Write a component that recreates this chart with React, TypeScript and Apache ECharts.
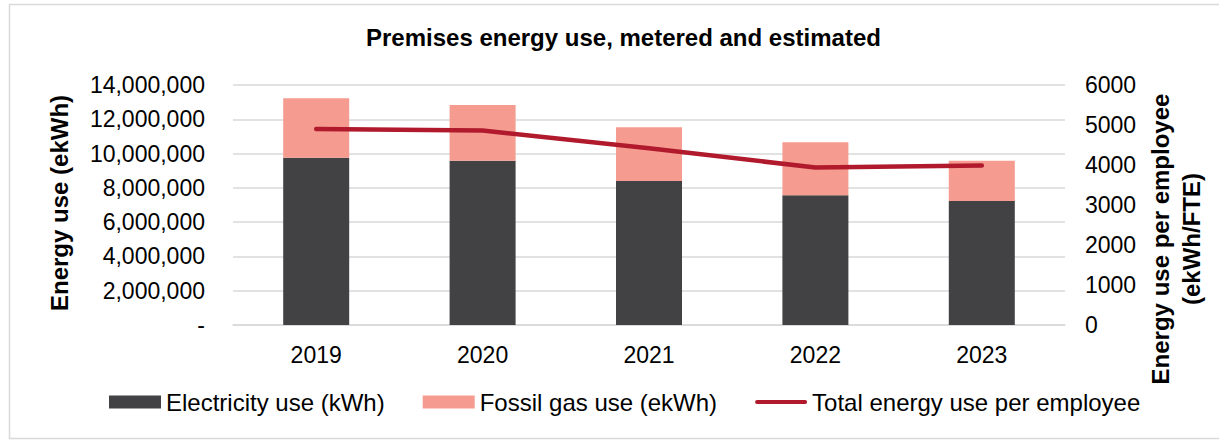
import React, { useEffect, useRef } from "react";
import * as echarts from "echarts";

const categories = ["2019", "2020", "2021", "2022", "2023"];
const electricityUse = [9760000, 9580000, 8400000, 7570000, 7230000];
const fossilGasUse = [3460000, 3250000, 3130000, 3090000, 2350000];
const perEmployee = [4900, 4860, 4420, 3935, 3990];

const titleText = "Premises energy use, metered and estimated";
const leftAxisName = "Energy use (ekWh)";
const rightAxisName = "Energy use per employee\n(ekWh/FTE)";
const seriesNames = ["Electricity use (kWh)", "Fossil gas use (ekWh)", "Total energy use per employee"];

const FONT = '"Liberation Sans", Arial, sans-serif';
const GRID_COLOR = "#d9d9d9";

export default function App() {
  const ref = useRef<HTMLDivElement>(null);
  useEffect(() => {
    if (!ref.current) return;
    const chart = echarts.init(ref.current, undefined, { renderer: "svg" });
    chart.setOption({
      animation: false,
      textStyle: { fontFamily: FONT },
      title: {
        text: titleText,
        left: 366,
        top: 25,
        padding: 0,
        textStyle: { fontFamily: FONT, fontSize: 24, fontWeight: "bold", color: "#000" },
      },
      grid: { left: 233, right: 154, top: 85, bottom: 117, containLabel: false },
      legend: {
        left: 109,
        top: 390,
        padding: 0,
        itemWidth: 52,
        itemHeight: 13,
        itemGap: 38,
        textStyle: { fontFamily: FONT, fontSize: 24, color: "#000" },
        data: [
          { name: seriesNames[0], icon: "rect" },
          { name: seriesNames[1], icon: "rect" },
          {
            name: seriesNames[2],
            icon: "path://M0,0L0,0ZM52,13L52,13ZM1,4.5L51,4.5A2,2,0,0,1,51,8.5L1,8.5A2,2,0,0,1,1,4.5Z",
          },
        ],
      },
      xAxis: {
        type: "category",
        data: categories,
        axisLine: { lineStyle: { color: GRID_COLOR, width: 1.5 } },
        axisTick: { show: false },
        axisLabel: { fontFamily: FONT, fontSize: 23, color: "#000", margin: 18 },
      },
      yAxis: [
        {
          type: "value",
          min: 0,
          max: 14000000,
          interval: 2000000,
          axisLine: { show: false },
          axisTick: { show: false },
          splitLine: { lineStyle: { color: GRID_COLOR, width: 1.5 } },
          axisLabel: {
            fontFamily: FONT,
            fontSize: 23,
            color: "#000",
            margin: 28,
            formatter: (v: number) => (v === 0 ? "-" : v.toLocaleString("en-US")),
          },
        },
        {
          type: "value",
          min: 0,
          max: 6000,
          interval: 1000,
          position: "right",
          axisLine: { show: false },
          axisTick: { show: false },
          splitLine: { show: false },
          axisLabel: {
            fontFamily: FONT,
            fontSize: 23,
            color: "#000",
            margin: 20,
            formatter: (v: number) => String(v),
          },
        },
      ],
      series: [
        {
          name: seriesNames[0],
          type: "bar",
          stack: "energy",
          data: electricityUse,
          barWidth: 66,
          itemStyle: { color: "#424244" },
        },
        {
          name: seriesNames[1],
          type: "bar",
          stack: "energy",
          data: fossilGasUse,
          barWidth: 66,
          itemStyle: { color: "#f59b8f" },
        },
        {
          name: seriesNames[2],
          type: "line",
          yAxisIndex: 1,
          data: perEmployee,
          symbol: "none",
          showSymbol: false,
          lineStyle: { color: "#b01a2c", width: 4.5, cap: "round", join: "round" },
          itemStyle: { color: "#b01a2c" },
        },
      ],
      graphic: [
        {
          type: "rect",
          silent: true,
          shape: { x: 9.5, y: 4.5, width: 1225, height: 434 },
          style: { fill: "none", stroke: GRID_COLOR, lineWidth: 1.5 },
          z: -10,
        },
        {
          type: "text",
          x: 59,
          y: 203,
          rotation: Math.PI / 2,
          style: {
            text: leftAxisName,
            fontFamily: FONT,
            fontSize: 24,
            fontWeight: "bold",
            fill: "#000",
            align: "center",
            verticalAlign: "middle",
          },
        },
        {
          type: "text",
          x: 1176,
          y: 239,
          rotation: Math.PI / 2,
          style: {
            text: rightAxisName,
            fontFamily: FONT,
            fontSize: 24,
            fontWeight: "bold",
            fill: "#000",
            align: "center",
            verticalAlign: "middle",
            lineHeight: 31,
          },
        },
      ],
    });
    return () => chart.dispose();
  }, []);
  return (
    <div
      ref={ref}
      style={{ position: "absolute", left: 0, top: 0, width: 1219, height: 442, background: "#fff" }}
    />
  );
}
